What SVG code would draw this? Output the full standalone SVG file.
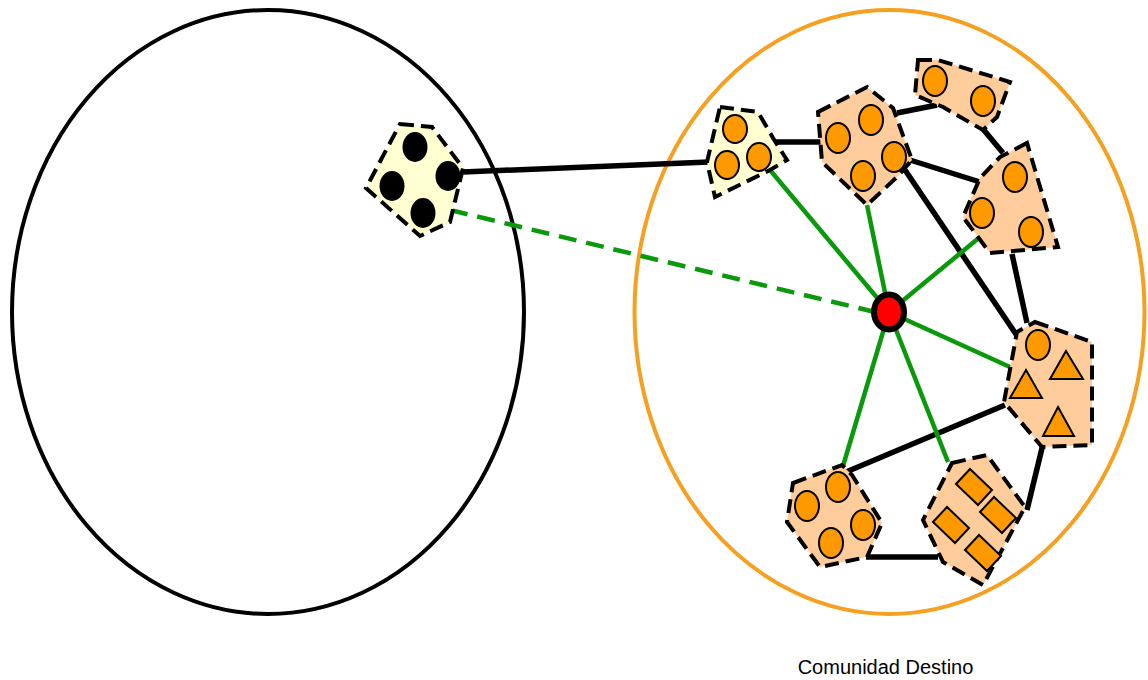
<svg xmlns="http://www.w3.org/2000/svg" width="1148" height="680" viewBox="0 0 1148 680">
<style>
.comm{fill:none;stroke-width:4}
.blk{stroke:#000;stroke-width:5.5;fill:none;stroke-linecap:butt}
.grn{stroke:#0a990a;stroke-width:4.5;fill:none}
.dash{stroke:#0a990a;stroke-width:4.5;fill:none;stroke-dasharray:18,10}
.yel{fill:#ffffd2;stroke:#000;stroke-width:4;stroke-dasharray:14,7}
.pch{fill:#ffcc9c;stroke:#000;stroke-width:4;stroke-dasharray:14,7}
.dot{fill:#000}
.orc{fill:#ff9900;stroke:#000;stroke-width:2}
.lbl{font-family:"Liberation Sans",Arial,sans-serif;font-size:20px;fill:#000}
</style>
<rect width="1148" height="680" fill="#fff"/>
<g id="community-left"><ellipse class="comm" cx="268" cy="312" rx="256" ry="302" stroke="#000"/></g>
<g id="community-right"><ellipse class="comm" cx="889.5" cy="312" rx="255" ry="302" stroke="#f5a020"/></g>
<g id="connectors">
<line class="blk" x1="463" y1="172" x2="709" y2="162"/>
<line class="dash" x1="450" y1="210" x2="875" y2="312"/>
<line class="blk" x1="772" y1="142" x2="822" y2="142"/>
<line class="blk" x1="897" y1="113" x2="937" y2="105"/>
<line class="blk" x1="910" y1="160" x2="980" y2="182"/>
<line class="blk" x1="983" y1="129" x2="1003" y2="153"/>
<line class="blk" x1="905" y1="170" x2="1022" y2="343"/>
<line class="blk" x1="1012" y1="254" x2="1027" y2="323"/>
<line class="blk" x1="1005" y1="405" x2="846" y2="472"/>
<line class="blk" x1="1043" y1="444" x2="1027" y2="510"/>
<line class="blk" x1="866" y1="557" x2="938" y2="557"/>
<line class="grn" x1="889" y1="312" x2="770" y2="170"/>
<line class="grn" x1="889" y1="312" x2="867" y2="205"/>
<line class="grn" x1="889" y1="312" x2="980" y2="237"/>
<line class="grn" x1="889" y1="312" x2="1010" y2="367"/>
<line class="grn" x1="889" y1="312" x2="843" y2="466"/>
<line class="grn" x1="889" y1="312" x2="948" y2="462"/>
</g>
<g id="node-external">
<polygon class="yel" points="400,124 432,127 463,168 450,222 420,236 366,188"/>
<ellipse class="dot" cx="415" cy="147" rx="12.5" ry="15"/>
<ellipse class="dot" cx="392" cy="186" rx="12.5" ry="15"/>
<ellipse class="dot" cx="448" cy="176" rx="12.5" ry="15"/>
<ellipse class="dot" cx="423" cy="213" rx="12.5" ry="15"/>
</g>
<g id="node-bridge">
<polygon class="yel" points="720,107 758,112 773,138 787,160 770,170 715,197 707,162"/>
<ellipse class="orc" cx="735" cy="129" rx="12" ry="14"/>
<ellipse class="orc" cx="727" cy="165" rx="12" ry="14"/>
<ellipse class="orc" cx="759" cy="157" rx="12" ry="14"/>
</g>
<g id="node-a">
<polygon class="pch" points="818,112 867,87 893,108 912,160 897,177 867,205 822,162"/>
<ellipse class="orc" cx="871" cy="120" rx="12" ry="15"/>
<ellipse class="orc" cx="838" cy="138" rx="12" ry="15"/>
<ellipse class="orc" cx="894" cy="157" rx="12" ry="15"/>
<ellipse class="orc" cx="863" cy="176" rx="12" ry="15"/>
</g>
<g id="node-b">
<polygon class="pch" points="918,60 938,60 1010,82 997,117 983,130 943,107 915,95"/>
<ellipse class="orc" cx="935" cy="81" rx="12" ry="15"/>
<ellipse class="orc" cx="983" cy="101" rx="12" ry="15"/>
</g>
<g id="node-c">
<polygon class="pch" points="1027,143 1000,157 980,178 963,217 990,253 1058,247"/>
<ellipse class="orc" cx="1015" cy="177" rx="12" ry="15"/>
<ellipse class="orc" cx="982" cy="213" rx="12" ry="15"/>
<ellipse class="orc" cx="1031" cy="232" rx="12" ry="15"/>
</g>
<g id="node-d">
<polygon class="pch" points="1035,322 1092,342 1092,445 1042,447 1004,402 1017,332"/>
<ellipse class="orc" cx="1038" cy="345" rx="12" ry="15"/>
<polygon class="orc" points="1066,351 1083,379 1050,379"/>
<polygon class="orc" points="1026,370 1042,398 1010,398"/>
<polygon class="orc" points="1058,407 1074,436 1043,436"/>
</g>
<g id="node-e">
<polygon class="pch" points="793,483 842,465 852,475 882,523 867,557 820,567 787,522"/>
<ellipse class="orc" cx="838" cy="487" rx="12" ry="15"/>
<ellipse class="orc" cx="807" cy="506" rx="12" ry="15"/>
<ellipse class="orc" cx="863" cy="525" rx="12" ry="15"/>
<ellipse class="orc" cx="831" cy="543" rx="12" ry="15"/>
</g>
<g id="node-f">
<polygon class="pch" points="952,463 987,455 1025,507 1017,522 983,585 943,562 923,520"/>
<polygon class="orc" points="956,484 970,469 992,490 978,505"/>
<polygon class="orc" points="980,512 994,497 1016,518 1002,533"/>
<polygon class="orc" points="933,522 947,507 969,528 955,543"/>
<polygon class="orc" points="965,550 979,535 1001,556 987,571"/>
</g>
<g id="node-center">
<ellipse cx="889" cy="312" rx="15" ry="17.5" fill="#ff0000" stroke="#000" stroke-width="6"/>
</g>
<text class="lbl" x="885.5" y="674" text-anchor="middle">Comunidad Destino</text>
</svg>
